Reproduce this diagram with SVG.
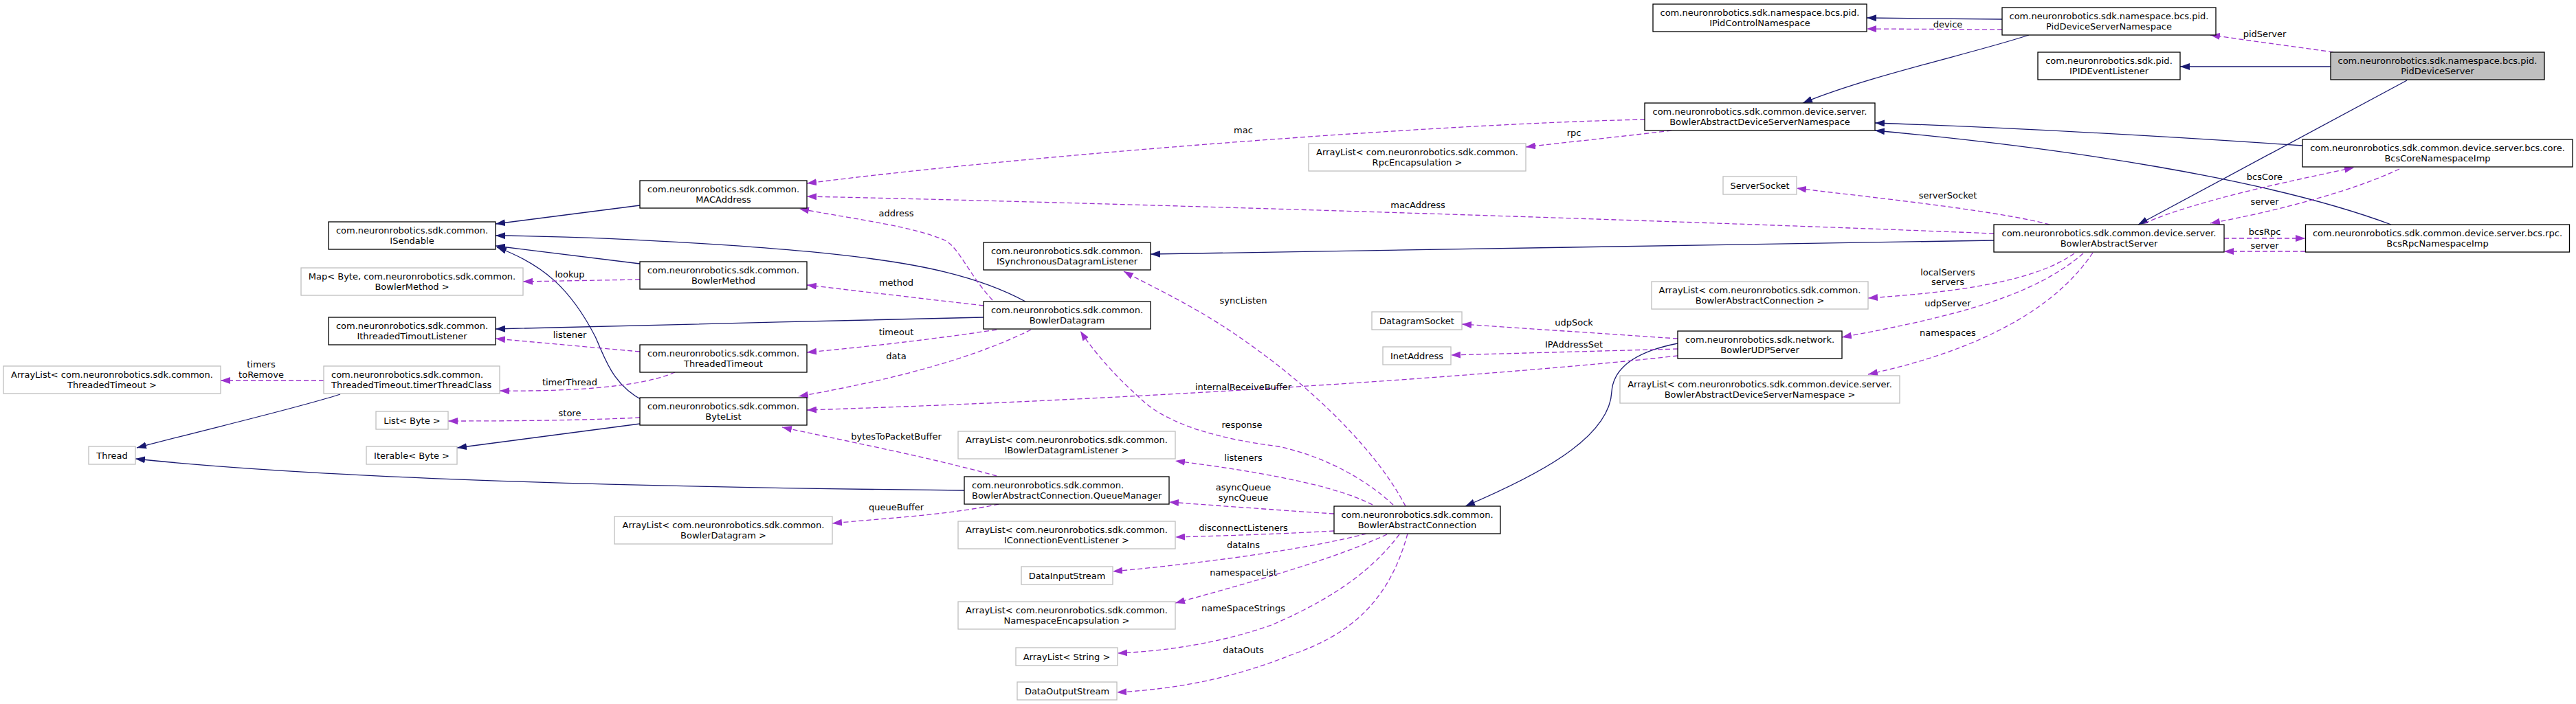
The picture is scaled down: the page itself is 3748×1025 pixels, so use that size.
<svg xmlns="http://www.w3.org/2000/svg" width="3748" height="1025" viewBox="0 0 3748 1025">
<style>
text{font-family:"DejaVu Sans","Liberation Sans",sans-serif;font-size:13px;fill:#000;text-anchor:middle}
text.l{text-anchor:start}
.node rect{stroke-width:1.3}
.doc rect{fill:#fff;stroke:#000}
.ext rect{fill:#fff;stroke:#bfbfbf}
.cur rect{fill:#bfbfbf;stroke:#000}
.inh{fill:none;stroke:#191970;stroke-width:1.3;marker-end:url(#ab)}
.use{fill:none;stroke:#9a32cd;stroke-width:1.3;stroke-dasharray:7,4;marker-end:url(#ao)}
</style>
<defs>
<marker id="ab" viewBox="0 0 14 10" refX="14" refY="5" markerWidth="14" markerHeight="10" markerUnits="userSpaceOnUse" orient="auto"><path d="M0,0 L14,5 L0,10 z" fill="#191970"/></marker>
<marker id="ao" viewBox="0 0 14 10" refX="14" refY="5" markerWidth="14" markerHeight="10" markerUnits="userSpaceOnUse" orient="auto"><path d="M0,0 L14,5 L0,10 z" fill="#9a32cd"/></marker>
</defs>
<rect width="3748" height="1025" fill="#fff"/>
<g id="edges">
<path class="inh" d="M2913,28 L2716,26"/>
<path class="inh" d="M2952,51 C2870,78 2720,110 2623,150"/>
<path class="inh" d="M3391,97 L3172,97"/>
<path class="inh" d="M3502,117 L3111,327"/>
<path class="inh" d="M3350,212 C3100,195 2900,185 2728,179"/>
<path class="inh" d="M3479,327 C3300,260 3000,215 2728,190"/>
<path class="inh" d="M2901,350 C2400,356 2000,365 1674,370"/>
<path class="inh" d="M2441,500 C2390,510 2348,530 2345,570 C2342,640 2230,695 2132,737"/>
<path class="inh" d="M1492,439 C1420,400 1330,385 1270,377 C1150,360 900,345 721,343"/>
<path class="inh" d="M931,299 L721,326"/>
<path class="inh" d="M931,384 L721,358"/>
<path class="inh" d="M1431,462 C1200,467 940,474 721,479"/>
<path class="inh" d="M937,584 C890,560 880,520 866,490 C830,420 790,385 723,360"/>
<path class="inh" d="M931,617 L665,652"/>
<path class="inh" d="M495,574 C430,595 300,625 199,652"/>
<path class="inh" d="M1403,714 C1000,710 500,700 197,668"/>
<path class="use" d="M2913,43 L2716,42"/>
<path class="use" d="M3395,76 L3216,51"/>
<path class="use" d="M2393,174 C2100,180 1500,225 1174,267"/>
<path class="use" d="M2432,190 C2350,200 2280,207 2220,214"/>
<path class="use" d="M2982,327 C2900,305 2700,285 2614,274"/>
<path class="use" d="M2901,340 C2400,320 1600,295 1174,286"/>
<path class="use" d="M3120,325 C3200,290 3350,260 3425,244"/>
<path class="use" d="M3491,246 C3420,280 3300,310 3216,325"/>
<path class="use" d="M3236,347 L3354,347"/>
<path class="use" d="M3354,366 L3236,366"/>
<path class="use" d="M3018,369 C2960,410 2850,425 2718,434"/>
<path class="use" d="M3031,369 C2960,430 2850,460 2680,491"/>
<path class="use" d="M3045,368 C2990,450 2880,510 2718,545"/>
<path class="use" d="M2441,493 L2127,472"/>
<path class="use" d="M2441,508 L2111,517"/>
<path class="use" d="M2441,518 C2200,545 1700,580 1174,597"/>
<path class="use" d="M1431,445 L1174,415"/>
<path class="use" d="M1444,437 C1410,400 1395,360 1375,350 C1330,330 1250,320 1163,304"/>
<path class="use" d="M1450,480 C1350,495 1260,505 1174,513"/>
<path class="use" d="M1500,480 C1400,530 1260,560 1162,577"/>
<path class="use" d="M931,512 L721,493"/>
<path class="use" d="M982,542 C930,565 820,570 727,569"/>
<path class="use" d="M471,554 L321,554"/>
<path class="use" d="M931,407 L761,410"/>
<path class="use" d="M931,608 C850,612 750,613 652,613"/>
<path class="use" d="M2045,737 C2000,650 1900,560 1830,510 C1750,450 1680,420 1635,395"/>
<path class="use" d="M2027,735 C1990,700 1930,665 1860,650 C1780,640 1700,620 1659,580 C1620,545 1590,510 1572,482"/>
<path class="use" d="M1997,735 C1940,705 1820,685 1710,671"/>
<path class="use" d="M1450,693 C1350,665 1220,640 1138,622"/>
<path class="use" d="M1941,748 C1850,742 1770,736 1701,731"/>
<path class="use" d="M1453,734 C1380,750 1280,755 1211,762"/>
<path class="use" d="M1941,773 C1850,778 1780,780 1710,782"/>
<path class="use" d="M1988,777 C1900,800 1750,820 1619,832"/>
<path class="use" d="M2018,778 C1950,810 1850,840 1710,878"/>
<path class="use" d="M2036,778 C1990,840 1920,880 1850,910 C1780,935 1700,948 1626,951"/>
<path class="use" d="M2048,777 C2020,880 1960,925 1880,953 C1800,985 1720,1003 1625,1008"/>
</g>
<g id="edge-labels">
<text x="2834" y="40">device</text>
<text x="3295" y="54">pidServer</text>
<text x="1809" y="194">mac</text>
<text x="2290" y="198">rpc</text>
<text x="2834" y="289">serverSocket</text>
<text x="2063" y="303">macAddress</text>
<text x="3295" y="262">bcsCore</text>
<text x="3295" y="298">server</text>
<text x="3295" y="342">bcsRpc</text>
<text x="3295" y="362">server</text>
<text x="2834" y="401">localServers</text>
<text x="2834" y="415">servers</text>
<text x="2834" y="446">udpServer</text>
<text x="2834" y="489">namespaces</text>
<text x="2290" y="474">udpSock</text>
<text x="2290" y="506">IPAddressSet</text>
<text x="1809" y="568">internalReceiveBuffer</text>
<text x="1304" y="416">method</text>
<text x="1304" y="315">address</text>
<text x="1304" y="488">timeout</text>
<text x="1304" y="523">data</text>
<text x="1809" y="442">syncListen</text>
<text x="1807" y="623">response</text>
<text x="1809" y="671">listeners</text>
<text x="1304" y="640">bytesToPacketBuffer</text>
<text x="829" y="404">lookup</text>
<text x="829" y="492">listener</text>
<text x="380" y="535">timers</text>
<text x="380" y="550">toRemove</text>
<text x="829" y="561">timerThread</text>
<text x="829" y="606">store</text>
<text x="1809" y="714">asyncQueue</text>
<text x="1809" y="729">syncQueue</text>
<text x="1304" y="743">queueBuffer</text>
<text x="1809" y="773">disconnectListeners</text>
<text x="1809" y="798">dataIns</text>
<text x="1809" y="838">namespaceList</text>
<text x="1809" y="890">nameSpaceStrings</text>
<text x="1809" y="951">dataOuts</text>
</g>
<g id="n_IPidControlNamespace" class="node doc"><rect x="2405" y="6" width="311" height="40"/><text x="2560.5" y="22.5">com.neuronrobotics.sdk.namespace.bcs.pid.</text><text x="2560.5" y="37.5">IPidControlNamespace</text></g>
<g id="n_PidDeviceServerNamespace" class="node doc"><rect x="2913" y="11" width="311" height="40"/><text x="3068.5" y="27.5">com.neuronrobotics.sdk.namespace.bcs.pid.</text><text x="3068.5" y="42.5">PidDeviceServerNamespace</text></g>
<g id="n_IPIDEventListener" class="node doc"><rect x="2965" y="76" width="207" height="40"/><text x="3068.5" y="92.5">com.neuronrobotics.sdk.pid.</text><text x="3068.5" y="107.5">IPIDEventListener</text></g>
<g id="n_PidDeviceServer" class="node cur"><rect x="3391" y="76" width="311" height="40"/><text x="3546.5" y="92.5">com.neuronrobotics.sdk.namespace.bcs.pid.</text><text x="3546.5" y="107.5">PidDeviceServer</text></g>
<g id="n_BowlerAbstractDeviceServerNamespace" class="node doc"><rect x="2393" y="150" width="335" height="40"/><text x="2560.5" y="166.5">com.neuronrobotics.sdk.common.device.server.</text><text x="2560.5" y="181.5">BowlerAbstractDeviceServerNamespace</text></g>
<g id="n_ArrayListRpcEncapsulation" class="node ext"><rect x="1904" y="209" width="316" height="40"/><text x="2062" y="225.5">ArrayList&lt; com.neuronrobotics.sdk.common.</text><text x="2062" y="240.5">RpcEncapsulation &gt;</text></g>
<g id="n_BcsCoreNamespaceImp" class="node doc"><rect x="3350" y="203" width="393" height="40"/><text x="3546.5" y="219.5">com.neuronrobotics.sdk.common.device.server.bcs.core.</text><text x="3546.5" y="234.5">BcsCoreNamespaceImp</text></g>
<g id="n_ServerSocket" class="node ext"><rect x="2507" y="257" width="107" height="26"/><text x="2560.5" y="274.5">ServerSocket</text></g>
<g id="n_BowlerAbstractServer" class="node doc"><rect x="2901" y="327" width="335" height="40"/><text x="3068.5" y="343.5">com.neuronrobotics.sdk.common.device.server.</text><text x="3068.5" y="358.5">BowlerAbstractServer</text></g>
<g id="n_BcsRpcNamespaceImp" class="node doc"><rect x="3354.5" y="327" width="384" height="40"/><text x="3546.5" y="343.5">com.neuronrobotics.sdk.common.device.server.bcs.rpc.</text><text x="3546.5" y="358.5">BcsRpcNamespaceImp</text></g>
<g id="n_MACAddress" class="node doc"><rect x="931" y="263" width="243" height="40"/><text x="1052.5" y="279.5">com.neuronrobotics.sdk.common.</text><text x="1052.5" y="294.5">MACAddress</text></g>
<g id="n_ISendable" class="node doc"><rect x="478" y="323" width="243" height="40"/><text x="599.5" y="339.5">com.neuronrobotics.sdk.common.</text><text x="599.5" y="354.5">ISendable</text></g>
<g id="n_ISynchronousDatagramListener" class="node doc"><rect x="1431" y="353" width="243" height="40"/><text x="1552.5" y="369.5">com.neuronrobotics.sdk.common.</text><text x="1552.5" y="384.5">ISynchronousDatagramListener</text></g>
<g id="n_BowlerMethod" class="node doc"><rect x="931" y="381" width="243" height="40"/><text x="1052.5" y="397.5">com.neuronrobotics.sdk.common.</text><text x="1052.5" y="412.5">BowlerMethod</text></g>
<g id="n_MapBowlerMethod" class="node ext"><rect x="438" y="390" width="323" height="40"/><text x="599.5" y="406.5">Map&lt; Byte, com.neuronrobotics.sdk.common.</text><text x="599.5" y="421.5">BowlerMethod &gt;</text></g>
<g id="n_ArrayListBowlerAbstractConnection" class="node ext"><rect x="2403" y="410" width="315" height="40"/><text x="2560.5" y="426.5">ArrayList&lt; com.neuronrobotics.sdk.common.</text><text x="2560.5" y="441.5">BowlerAbstractConnection &gt;</text></g>
<g id="n_BowlerDatagram" class="node doc"><rect x="1431" y="439" width="243" height="40"/><text x="1552.5" y="455.5">com.neuronrobotics.sdk.common.</text><text x="1552.5" y="470.5">BowlerDatagram</text></g>
<g id="n_DatagramSocket" class="node ext"><rect x="1996" y="454" width="131" height="26"/><text x="2061.5" y="471.5">DatagramSocket</text></g>
<g id="n_IthreadedTimoutListener" class="node doc"><rect x="478" y="462" width="243" height="40"/><text x="599.5" y="478.5">com.neuronrobotics.sdk.common.</text><text x="599.5" y="493.5">IthreadedTimoutListener</text></g>
<g id="n_BowlerUDPServer" class="node doc"><rect x="2441" y="482" width="239" height="40"/><text x="2560.5" y="498.5">com.neuronrobotics.sdk.network.</text><text x="2560.5" y="513.5">BowlerUDPServer</text></g>
<g id="n_ThreadedTimeout" class="node doc"><rect x="931" y="502" width="243" height="40"/><text x="1052.5" y="518.5">com.neuronrobotics.sdk.common.</text><text x="1052.5" y="533.5">ThreadedTimeout</text></g>
<g id="n_InetAddress" class="node ext"><rect x="2012" y="505" width="99" height="26"/><text x="2061.5" y="522.5">InetAddress</text></g>
<g id="n_ArrayListThreadedTimeout" class="node ext"><rect x="5" y="533" width="316" height="40"/><text x="163" y="549.5">ArrayList&lt; com.neuronrobotics.sdk.common.</text><text x="163" y="564.5">ThreadedTimeout &gt;</text></g>
<g id="n_timerThreadClass" class="node ext"><rect x="471" y="533" width="256" height="40"/><text class="l" x="482" y="549.5">com.neuronrobotics.sdk.common.</text><text class="l" x="482" y="564.5">ThreadedTimeout.timerThreadClass</text></g>
<g id="n_ArrayListBowlerAbstractDeviceServerNamespace" class="node ext"><rect x="2357" y="547" width="407" height="40"/><text x="2560.5" y="563.5">ArrayList&lt; com.neuronrobotics.sdk.common.device.server.</text><text x="2560.5" y="578.5">BowlerAbstractDeviceServerNamespace &gt;</text></g>
<g id="n_ByteList" class="node doc"><rect x="931" y="579" width="243" height="40"/><text x="1052.5" y="595.5">com.neuronrobotics.sdk.common.</text><text x="1052.5" y="610.5">ByteList</text></g>
<g id="n_ListByte" class="node ext"><rect x="547" y="599" width="105" height="26"/><text x="599.5" y="616.5">List&lt; Byte &gt;</text></g>
<g id="n_ArrayListIBowlerDatagramListener" class="node ext"><rect x="1394" y="628" width="316" height="40"/><text x="1552" y="644.5">ArrayList&lt; com.neuronrobotics.sdk.common.</text><text x="1552" y="659.5">IBowlerDatagramListener &gt;</text></g>
<g id="n_Thread" class="node ext"><rect x="129" y="650" width="68" height="26"/><text x="163" y="667.5">Thread</text></g>
<g id="n_IterableByte" class="node ext"><rect x="533" y="650" width="132" height="26"/><text x="599" y="667.5">Iterable&lt; Byte &gt;</text></g>
<g id="n_QueueManager" class="node doc"><rect x="1403" y="694" width="298" height="40"/><text class="l" x="1414" y="710.5">com.neuronrobotics.sdk.common.</text><text class="l" x="1414" y="725.5">BowlerAbstractConnection.QueueManager</text></g>
<g id="n_BowlerAbstractConnection" class="node doc"><rect x="1941" y="737" width="242" height="40"/><text x="2062" y="753.5">com.neuronrobotics.sdk.common.</text><text x="2062" y="768.5">BowlerAbstractConnection</text></g>
<g id="n_ArrayListBowlerDatagram" class="node ext"><rect x="894" y="752" width="317" height="40"/><text x="1052.5" y="768.5">ArrayList&lt; com.neuronrobotics.sdk.common.</text><text x="1052.5" y="783.5">BowlerDatagram &gt;</text></g>
<g id="n_ArrayListIConnectionEventListener" class="node ext"><rect x="1394" y="759" width="316" height="40"/><text x="1552" y="775.5">ArrayList&lt; com.neuronrobotics.sdk.common.</text><text x="1552" y="790.5">IConnectionEventListener &gt;</text></g>
<g id="n_DataInputStream" class="node ext"><rect x="1486" y="825" width="133" height="26"/><text x="1552.5" y="842.5">DataInputStream</text></g>
<g id="n_ArrayListNamespaceEncapsulation" class="node ext"><rect x="1394" y="876" width="316" height="40"/><text x="1552" y="892.5">ArrayList&lt; com.neuronrobotics.sdk.common.</text><text x="1552" y="907.5">NamespaceEncapsulation &gt;</text></g>
<g id="n_ArrayListString" class="node ext"><rect x="1478" y="943" width="148" height="26"/><text x="1552" y="960.5">ArrayList&lt; String &gt;</text></g>
<g id="n_DataOutputStream" class="node ext"><rect x="1480" y="993" width="145" height="26"/><text x="1552.5" y="1010.5">DataOutputStream</text></g>
</svg>
